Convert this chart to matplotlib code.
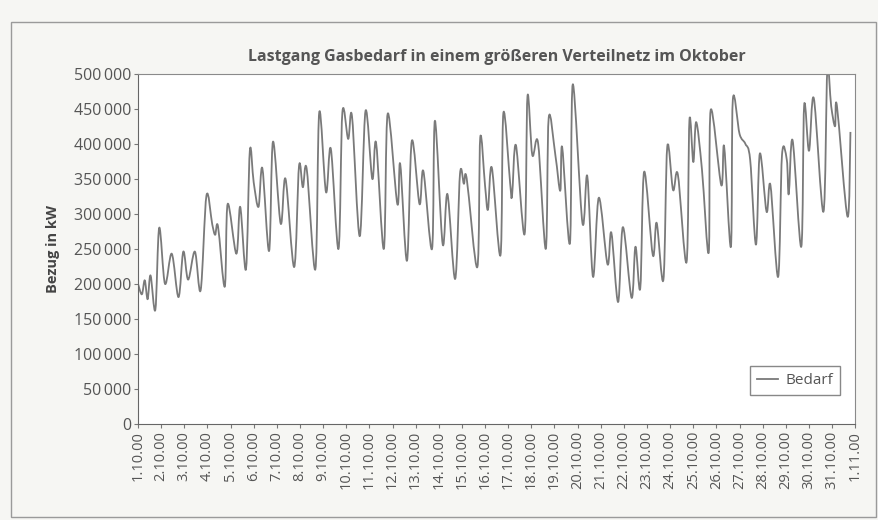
import matplotlib
matplotlib.use("Agg")
from matplotlib import pyplot as plt
from matplotlib.patches import Rectangle, PathPatch
from matplotlib.path import Path
from matplotlib.lines import Line2D

plt.rcParams['font.family'] = ['Open Sans', 'DejaVu Sans']

# hours since 1.10. 00:00 and gas demand in kW (turning points)
hours = [0, 4, 7, 10, 13, 18, 22, 28, 35, 42, 47, 52, 59, 65, 71, 77, 80, 83, 90, 93,
         102, 106, 112, 116, 120, 125, 129, 136, 140, 148, 153, 162, 167, 171, 175, 184, 188, 195, 200, 208,
         212, 218, 222, 230, 236, 243, 247, 255, 259, 269, 272, 279, 284, 292, 296, 305, 308, 316, 321, 329,
         334, 338, 341, 352, 355, 360, 363, 367, 376, 379, 386, 388, 392, 401, 404, 409, 415, 423, 426, 433,
         438, 440, 448, 451, 461, 466, 472, 478, 487, 491, 498, 503, 512, 516, 521, 525, 534, 538, 545, 549,
         555, 560, 569, 572, 576, 579, 585, 592, 594, 605, 608, 615, 617, 624, 630, 635, 641, 645, 652, 656,
         664, 668, 673, 675, 679, 688, 691, 696, 701, 711, 715, 719, 723, 725, 736, 739]
bedarf = [200000, 185000, 205000, 178000, 212000, 163000, 280000, 200000, 243000, 181000,
          246000, 206000, 246000, 191000, 326000, 285000, 270000, 282000, 196000, 314000,
          243000, 310000, 221000, 390000, 345000, 310000, 365000, 247000, 403000, 286000,
          350000, 224000, 368000, 338000, 364000, 221000, 445000, 331000, 393000, 250000,
          445000, 407000, 439000, 268000, 447000, 350000, 401000, 250000, 443000, 314000,
          371000, 233000, 404000, 314000, 361000, 250000, 433000, 257000, 328000, 207000,
          357000, 343000, 350000, 224000, 409000, 340000, 306000, 366000, 241000, 444000,
          344000, 326000, 398000, 271000, 468000, 384000, 401000, 250000, 437000, 383000,
          333000, 395000, 258000, 485000, 287000, 354000, 210000, 323000, 228000, 273000,
          174000, 281000, 180000, 253000, 194000, 360000, 241000, 287000, 206000, 396000,
          334000, 356000, 231000, 434000, 374000, 431000, 363000, 245000, 448000, 341000,
          396000, 253000, 463000, 414000, 400000, 377000, 256000, 386000, 303000, 341000,
          210000, 384000, 377000, 328000, 405000, 253000, 455000, 390000, 465000, 303000,
          505000, 454000, 425000, 454000, 296000, 417000]

tick_hours = [24 * d for d in range(32)]
tick_labels = [f"{d}.10.00" for d in range(1, 32)] + ["1.11.00"]
y_ticks = list(range(0, 500001, 50000))

LINE_COLOR = '#7a7a7a'


def smooth_path(xs, ys):
    # Catmull-Rom through the points, like Excel's smoothed line
    verts = [(xs[0], ys[0])]
    codes = [Path.MOVETO]
    n = len(xs)
    for i in range(n - 1):
        x0, y0 = xs[max(i - 1, 0)], ys[max(i - 1, 0)]
        x1, y1 = xs[i], ys[i]
        x2, y2 = xs[i + 1], ys[i + 1]
        x3, y3 = xs[min(i + 2, n - 1)], ys[min(i + 2, n - 1)]
        verts += [(x1 + (x2 - x0) / 6, y1 + (y2 - y0) / 6),
                  (x2 - (x3 - x1) / 6, y2 - (y3 - y1) / 6),
                  (x2, y2)]
        codes += [Path.CURVE4] * 3
    return Path(verts, codes)


fig = plt.figure(figsize=(8.79, 5.20), dpi=100, facecolor='#f6f6f3')
ax = fig.add_axes([0.157, 0.185, 0.816, 0.673])
ax.set_facecolor('white')

ax.add_patch(PathPatch(smooth_path(hours, bedarf), fill=False,
                       edgecolor=LINE_COLOR, lw=1.3, joinstyle='round'))

ax.set_xlim(0, 744)
ax.set_ylim(0, 500000)
ax.set_xticks(tick_hours)
ax.set_xticklabels(tick_labels, rotation=90, fontsize=10.5, color='#555555')
ax.set_yticks(y_ticks)
ax.set_yticklabels([f"{v:,}".replace(",", "\u2009") for v in y_ticks], fontsize=11.5, color='#555555')
ax.tick_params(axis='both', length=3, color='#777777', direction='out', pad=2)

for s in ax.spines.values():
    s.set_color('#8a8a8a')
    s.set_linewidth(0.8)
ax.spines['left'].set_color('#666666')
ax.spines['bottom'].set_color('#666666')

ax.set_ylabel('Bezug in kW', fontsize=10.5, fontweight='bold', color='#444444', labelpad=10)
ax.set_title('Lastgang Gasbedarf in einem größeren Verteilnetz im Oktober',
             fontsize=11.5, fontweight='bold', color='#555555', pad=9)

handle = Line2D([], [], color=LINE_COLOR, lw=1.3)
leg = ax.legend([handle], ['Bedarf'], loc='lower right', fontsize=11, fancybox=False, framealpha=1,
                edgecolor='#888888', borderpad=0.45, handlelength=1.4, handletextpad=0.5,
                bbox_to_anchor=(0.99, 0.06))
for t in leg.get_texts():
    t.set_color('#555555')

fig.patches.append(Rectangle((0.012, 0.006), 0.985, 0.952, transform=fig.transFigure,
                             fill=False, edgecolor='#9a9a9a', lw=1.0))

fig.savefig('out.png', dpi=100, facecolor=fig.get_facecolor())
